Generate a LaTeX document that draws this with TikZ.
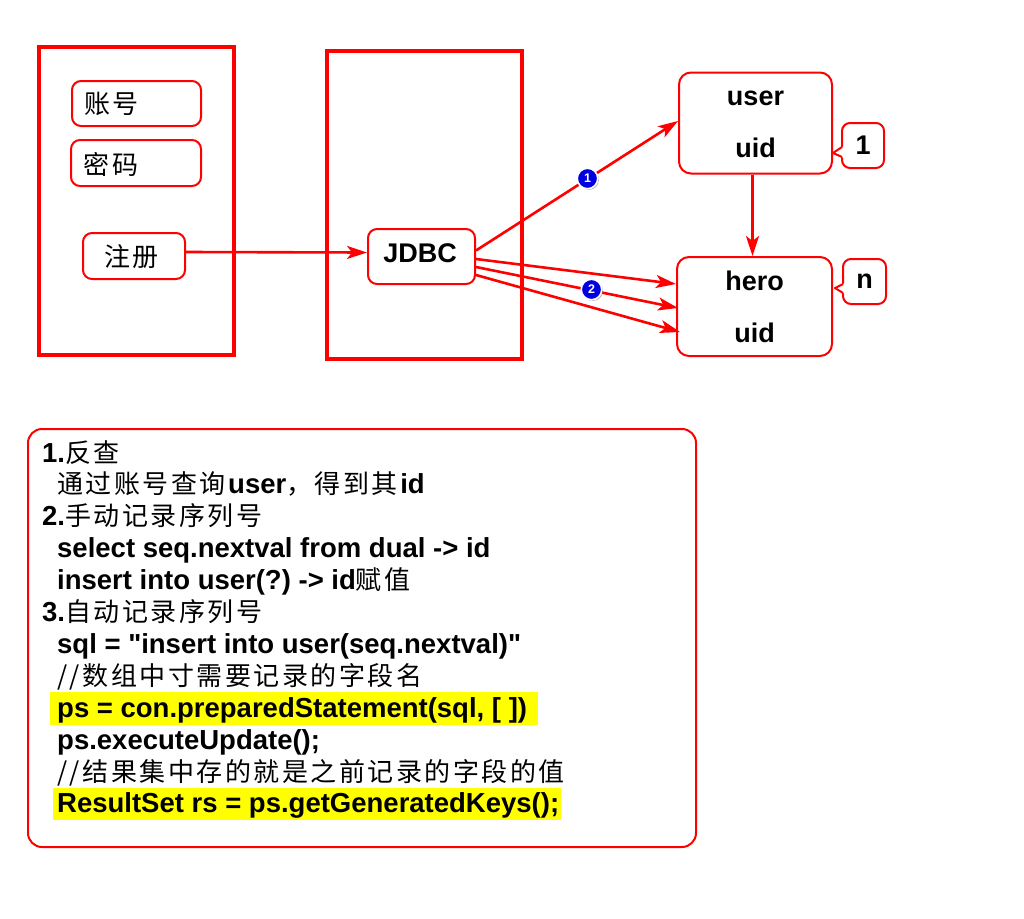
\documentclass[tikz,border=0pt]{standalone}
\usepackage{fontspec}
\setmainfont{Liberation Sans}[Ligatures=TeXOff]
\newfontfamily\cjk{Noto Sans CJK SC}
\usetikzlibrary{arrows.meta,shadows}
\definecolor{rd}{RGB}{255,0,0}
\definecolor{hl}{RGB}{255,255,0}
\definecolor{bl}{RGB}{0,0,225}
\frenchspacing
\makeatletter
\newcommand\zh[1]{{\fontsize{26}{32}\cjk\mdseries\@tfor\zz@c:=#1\do{\zz@c\kern2.5pt}}}
\makeatother
\newcommand\zhb[1]{{\fontsize{26}{26}\cjk\mdseries #1}}
\begin{document}
\begin{tikzpicture}[x=1pt,y=-1pt,
  panel/.style={draw=rd,line width=3.5pt,inner sep=0pt},
  rbox/.style={draw=rd,line width=2pt,rounded corners=9pt,fill=white,inner sep=0pt},
  conn/.style={draw=rd,line width=2.6pt,-{Stealth[length=20pt,width=13pt,inset=5pt]}},
  ptr/.style={draw=rd,line width=2pt,line join=round},
  hlbox/.style={fill=hl,inner sep=0pt},
  badge/.style={circle,fill=bl,draw=white,line width=1.6pt,minimum size=20.5pt,inner sep=0pt,text=white,
    font=\bfseries\fontsize{12.5}{12.5}\selectfont,
    drop shadow={shadow xshift=1.2pt,shadow yshift=-1.2pt,fill=black!60,opacity=0.5}},
  lat/.style={font=\bfseries\fontsize{27}{27}\selectfont,inner sep=0pt,anchor=base},
  zhl/.style={inner sep=0pt},
  note/.style={font=\bfseries\fontsize{27.5}{32}\selectfont,inner sep=0pt,anchor=base west},
]
\useasboundingbox[fill=white] (0,0) rectangle (1024,918);

% panels
\node[panel,minimum width=195,minimum height=308] (left) at (136.5,201) {};
\node[panel,minimum width=195,minimum height=308] (mid) at (424.5,205) {};

% left inputs
\node[rbox,minimum width=129,minimum height=45] (acct) at (136.5,103.5) {};
\node[zhl] (acctt) at (111.5,104) {\zhb{账\hspace{3pt}号}};
\node[rbox,minimum width=130,minimum height=46] (pwd) at (136,163) {};
\node[zhl] (pwdt) at (111,164) {\zhb{密\hspace{3pt}码}};
\node[rbox,minimum width=102,minimum height=46] (reg) at (134,256) {};
\node[zhl] (regt) at (131.5,257) {\zhb{注\hspace{3pt}册}};

% JDBC
\node[rbox,minimum width=107,minimum height=55] (jdbc) at (421.5,256.5) {};
\node[lat] (jdbct) at (420,262) {JDBC};

% user table
\node[rbox,minimum width=153,minimum height=101,rounded corners=12pt] (user) at (755.5,123) {};
\node[lat] (usert) at (755.5,105) {user};
\node[lat] (useruid) at (755.5,157) {uid};

% hero table
\node[rbox,minimum width=155,minimum height=99,rounded corners=12pt] (hero) at (754.5,306.5) {};
\node[lat] (herot) at (754.5,290) {hero};
\node[lat] (herouid) at (754.5,342) {uid};

% callouts
\node[rbox,rounded corners=8pt,minimum width=42,minimum height=45,font=\bfseries\fontsize{27}{27}\selectfont] (c1) at (863,145.5) {1};
\fill[white] (844,146) -- (833,153) -- (844,158) -- cycle;
\draw[ptr] (842,147) -- (833,153) -- (842,157);
\node[rbox,rounded corners=8pt,minimum width=43,minimum height=45,font=\bfseries\fontsize{27}{27}\selectfont] (cn) at (864.5,281.5) {n};
\fill[white] (845,283) -- (835,288) -- (845,294) -- cycle;
\draw[ptr] (843,284) -- (835,288) -- (843,293);

% connectors
\draw[conn] ([yshift=4pt]reg.east) -- ([yshift=4pt]jdbc.west);
\draw[conn] ([yshift=6pt]jdbc.east) -- ([yshift=2pt]user.west);
\draw[conn] ([yshift=-2.5pt]jdbc.east) -- ([yshift=22.5pt]hero.west);
\draw[conn] ([yshift=-10.5pt]jdbc.east) -- ([xshift=2pt,yshift=-1.5pt]hero.west);
\draw[conn] ([yshift=-18.5pt]jdbc.east) -- ([xshift=4pt,yshift=-25.5pt]hero.west);
\draw[conn] ([xshift=-3pt]user.south) -- ([xshift=-2pt]hero.north);

% badges
\node[badge] (b1) at (587.5,178.5) {1};
\node[badge] (b2) at (591.5,289.5) {2};

% notes
\node[rbox,rounded corners=14pt,minimum width=668,minimum height=418] (notes) at (362,638) {};
\node[hlbox,minimum width=488,minimum height=33] (h1) at (294,708.5) {};
\node[hlbox,minimum width=508,minimum height=32] (h2) at (307,804) {};

\node[note] (l1) at (42,462) {1.\zh{反查}};
\node[note] (l2) at (57,493.9) {\zh{通过账号查询}user\zh{，得到其}id};
\node[note] (l3) at (42,525.8) {2.\zh{手动记录序列号}};
\node[note] (l4) at (57,557.7) {select seq.nextval from dual -> id};
\node[note] (l5) at (57,589.6) {insert into user(?) -> id\zh{赋值}};
\node[note] (l6) at (42,621.5) {3.\zh{自动记录序列号}};
\node[note] (l7) at (57,653.4) {sql = "insert into user(seq.nextval)"};
\node[note] (l8) at (57,685.3) {\zh{//数组中寸需要记录的字段名}};
\node[note] (l9) at (57,717.2) {ps = con.preparedStatement(sql, [ ])};
\node[note] (l10) at (57,749.1) {ps.executeUpdate();};
\node[note] (l11) at (57,781) {\zh{//结果集中存的就是之前记录的字段的值}};
\node[note] (l12) at (57,812.9) {ResultSet rs = ps.getGeneratedKeys();};
\end{tikzpicture}
\end{document}
